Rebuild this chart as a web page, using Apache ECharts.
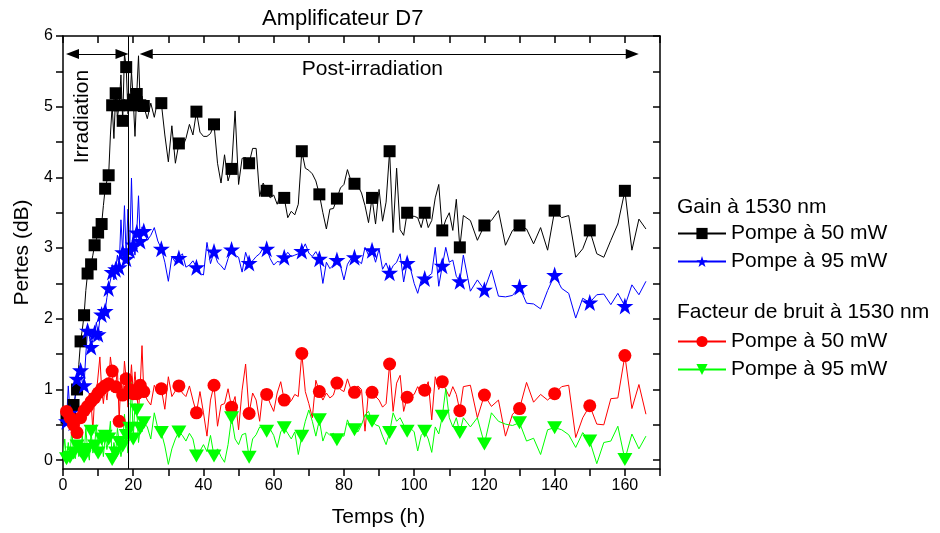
<!DOCTYPE html>
<html><head><meta charset="utf-8">
<script src="https://cdn.jsdelivr.net/npm/echarts@6/dist/echarts.min.js"></script>
<style>html,body{margin:0;padding:0;background:#fff}#c{width:940px;height:533px}</style>
</head><body><div id="c"></div><script>
// ---- data (hours, values in dB) ----
const hours = [
  0,0.5,1,1.5,2,2.5,3,3.5,4,4.5,5,5.5,6,6.5,7,7.5,8,8.5,9,9.5,10,10.5,11,11.5,12,12.5,13,13.5,14,14.5,15,15.5,16,16.5,17,17.5,18,18.5,19,19.5,20,20.5,21,21.5,22,22.5,
  23,24,25,26,27,28,29,30,31,32,33,34,35,36,37,38,39,40,41,42,43,44,45,46,47,48,49,50,51,52,53,54,55,56,57,58,59,60,61,62,63,64,65,66,67,68,
  69,70,71,72,73,74,75,76,77,78,79,80,81,82,83,84,85,86,87,88,89,90,91,92,93,94,95,96,97,98,99,100,101,102,103,104,105,106,107,108,109,110,111,112,113,
  114,116,118,120,122,124,126,128,130,132,134,136,138,140,142,144,146,148,150,152,154,156,158,160,162,164,166
];
const gain50 = [
  0.48,0.55,0.60,0.58,0.68,0.72,0.78,0.90,1.00,1.35,1.68,1.85,2.05,2.40,2.64,2.72,2.77,2.90,3.04,3.12,3.22,3.28,3.34,3.60,3.84,3.95,4.03,4.60,5.02,4.55,5.19,4.85,5.02,5.45,4.80,5.75,5.56,4.90,5.02,5.50,5.10,4.58,5.18,5.72,5.02,5.15,
  5.01,4.83,5.05,4.85,5.10,5.05,4.60,4.22,4.73,4.20,4.48,4.42,4.55,4.75,4.60,4.93,4.64,4.58,4.58,4.62,4.75,4.20,3.92,4.32,3.95,4.12,4.94,3.90,4.27,4.28,4.20,4.41,4.41,3.73,3.92,3.81,3.71,3.75,3.62,3.78,3.71,3.43,3.52,3.47,3.62,4.37,
  4.13,4.10,4.05,3.95,3.76,3.50,3.27,3.55,3.56,3.70,3.85,3.90,4.11,3.95,3.91,3.88,3.78,3.60,3.36,3.71,3.34,3.83,3.38,3.65,4.37,3.22,4.13,3.26,3.18,3.50,3.45,3.45,3.43,3.29,3.50,3.29,3.39,3.71,3.90,3.25,3.40,3.50,3.25,3.69,3.01,
  3.46,3.39,3.11,3.32,3.39,3.53,3.04,3.25,3.32,3.27,3.06,3.29,2.97,3.53,3.43,3.46,2.87,2.99,3.25,2.92,2.87,3.11,3.34,3.81,2.97,3.41,3.27
];
const gain95 = [
  0.45,0.62,0.55,1.05,0.67,0.75,0.53,0.95,1.15,1.20,1.27,1.10,1.06,1.50,1.83,1.75,1.60,1.70,1.80,1.95,1.78,2.00,2.06,2.15,2.11,2.30,2.43,2.45,2.66,2.55,2.70,2.90,2.73,3.40,2.94,3.60,2.85,3.55,2.97,3.99,3.05,2.90,3.22,3.74,3.10,3.30,
  3.24,3.11,3.18,3.29,3.10,2.99,2.80,2.53,2.88,2.80,2.86,2.92,2.73,2.76,2.82,2.73,2.64,2.62,3.08,2.78,2.95,2.80,2.75,2.69,2.85,2.98,2.90,2.87,2.66,2.94,2.79,2.82,2.88,2.92,3.00,2.99,2.85,2.76,2.81,2.80,2.87,2.94,2.88,2.90,2.92,2.96,
  3.06,2.93,2.88,2.95,2.85,2.50,2.80,2.71,2.76,2.83,2.75,2.55,2.77,2.85,2.87,2.82,2.78,3.01,2.90,2.97,2.80,2.99,2.70,2.79,2.65,2.75,2.80,2.92,2.52,2.79,2.70,2.50,2.36,2.55,2.57,2.60,2.64,3.01,2.46,2.75,3.01,2.80,2.83,2.60,2.53,
  2.90,2.39,2.55,2.41,2.69,2.32,2.31,2.33,2.45,2.22,2.21,2.14,2.40,2.62,2.43,2.36,2.01,2.29,2.23,2.34,2.35,2.20,2.36,2.18,2.48,2.34,2.53
];
const noise50 = [
  0.50,0.65,0.69,0.55,0.60,0.45,0.50,0.70,0.39,0.65,0.60,0.72,0.70,0.80,0.76,0.95,0.83,0.42,0.88,0.94,0.95,1.46,1.01,0.80,1.05,0.85,1.08,1.46,1.26,0.95,1.04,1.30,0.55,1.20,0.92,1.40,1.15,0.75,1.00,1.35,0.94,1.25,0.94,0.70,1.06,1.62,
  0.97,0.85,0.78,1.06,0.95,1.01,0.72,1.18,0.90,0.98,1.05,0.95,0.90,1.05,0.85,0.67,0.97,0.67,0.34,0.85,1.06,0.48,0.78,0.80,1.01,0.75,0.90,0.43,0.99,1.36,0.66,0.95,0.85,0.55,1.00,0.93,0.80,0.69,0.95,1.11,0.85,0.80,0.84,0.93,0.90,1.51,
  0.97,0.80,0.60,1.13,0.97,0.85,0.95,0.88,0.92,1.09,1.00,0.97,1.15,1.00,0.96,1.05,1.00,0.41,0.98,0.96,0.90,0.85,0.75,0.80,1.36,0.69,1.09,1.20,0.69,0.89,0.90,0.93,1.04,0.95,0.99,1.11,0.57,1.18,1.00,1.11,1.00,0.90,1.04,0.93,0.70,
  1.04,1.06,0.60,0.92,0.76,0.85,0.34,0.65,0.73,1.10,0.82,0.93,0.85,0.94,1.04,1.06,0.32,0.60,0.77,0.51,0.50,0.87,0.88,1.48,0.73,1.07,0.65
];
const noise95 = [
  0.05,0.30,0.02,0.25,0.04,0.45,0.10,0.02,0.20,0.05,0.13,0.35,0.05,0.45,0.15,0.00,0.41,0.10,0.20,0.50,0.10,0.35,0.30,0.05,0.34,0.15,0.30,0.55,0.01,0.25,0.10,0.45,0.25,0.05,0.20,0.65,0.35,0.10,0.45,1.10,0.30,0.80,0.71,0.25,0.45,0.40,
  0.53,0.47,0.30,0.67,0.45,0.39,0.20,-0.06,0.16,0.30,0.40,0.35,0.27,0.38,0.30,0.06,0.13,0.22,0.12,0.35,0.06,0.16,0.05,-0.03,0.22,0.60,0.30,0.22,0.36,0.38,0.04,0.30,0.36,0.47,0.45,0.41,0.44,0.35,0.18,0.40,0.46,0.38,0.30,0.40,0.08,0.34,
  0.55,0.71,0.55,0.34,0.57,0.27,0.40,0.35,0.38,0.29,0.35,0.34,0.57,0.45,0.43,0.40,0.50,0.64,0.69,0.55,0.50,0.48,0.34,0.22,0.39,0.67,0.55,0.60,0.50,0.41,0.45,0.40,0.13,0.35,0.41,0.30,0.11,0.47,0.37,0.62,1.01,0.60,0.47,0.60,0.39,
  0.60,0.47,0.60,0.23,0.67,0.55,0.51,0.49,0.53,0.27,0.31,0.08,0.43,0.46,0.43,0.36,0.18,0.39,0.27,-0.05,0.25,0.27,0.48,0.01,0.37,0.16,0.34
];
const markerHours = [1,2,3,4,5,6,7,8,9,10,11,12,13,14,15,16,17,18,19,20,21,22,
  23,28,33,38,43,48,53,58,63,68,73,78,83,88,93,98,103,108,113,120,130,140,150,160];
const xTickLabels = [0,20,40,60,80,100,120,140,160];
const yTickLabels = [0,1,2,3,4,5,6];
const yTicks = [0,0.5,1,1.5,2,2.5,3,3.5,4,4.5,5,5.5,6];
const irradiationEnd = 18.5;
const legendLabels = {g50:'Pompe à 50 mW', g95:'Pompe à 95 mW', n50:'Pompe à 50 mW', n95:'Pompe à 95 mW'};

// ---- chart ----
const FONT = '"Liberation Sans", Arial, sans-serif';
const pairs = v => hours.map((h, i) => [h, v[i]]);
const marks = v => markerHours.map(h => [h, v[hours.indexOf(h)]]);
const STAR = 'path://M50,0L61.8,35.1L98.9,35.1L69.1,56.8L80.3,91.9L50,70.2L19.7,91.9L30.9,56.8L1.1,35.1L38.2,35.1Z';
const TRI_DOWN = 'path://M0,0L100,0L50,87Z';

function lineSeries(id, vals, color, symbol, extra) {
  return Object.assign({
    name: id, type: 'line', data: pairs(vals), showSymbol: false, symbol: symbol,
    lineStyle: {color: color, width: 1}, itemStyle: {color: color},
    silent: true, animation: false, z: 2
  }, extra || {});
}
function markSeries(id, vals, color, symbol, size) {
  return {name: id + '_m', type: 'scatter', data: marks(vals), symbol: symbol, symbolSize: size,
    itemStyle: {color: color, opacity: 1}, silent: true, animation: false, z: 3};
}

const axisLineStyle = {color: '#000', width: 1.5};
const chart = echarts.init(document.getElementById('c'));
chart.setOption({
  animation: false,
  backgroundColor: '#fff',
  title: [
    {text: 'Amplificateur D7', left: 262, top: 8, padding: 0,
     textStyle: {fontSize: 22, fontWeight: 'normal', fontFamily: FONT, color: '#000'}},
    {text: 'Gain à 1530 nm', left: 677, top: 197, padding: 0,
     textStyle: {fontSize: 21, fontWeight: 'normal', fontFamily: FONT, color: '#000'}},
    {text: 'Facteur de bruit à 1530 nm', left: 677, top: 302, padding: 0,
     textStyle: {fontSize: 21, fontWeight: 'normal', fontFamily: FONT, color: '#000'}}
  ],
  legend: [
    {data: ['g50', 'g95'], orient: 'vertical', left: 677, top: 223, padding: 0, itemWidth: 48, itemHeight: 14, itemGap: 7,
     selectedMode: false, formatter: n => legendLabels[n],
     textStyle: {fontSize: 21, fontFamily: FONT, color: '#000', lineHeight: 20}},
    {data: ['n50', 'n95'], orient: 'vertical', left: 677, top: 331, padding: 0, itemWidth: 48, itemHeight: 14, itemGap: 7,
     selectedMode: false, formatter: n => legendLabels[n],
     textStyle: {fontSize: 21, fontFamily: FONT, color: '#000', lineHeight: 20}}
  ],
  grid: {left: 63, right: 280, top: 36, bottom: 58, containLabel: false},
  xAxis: [
    {type: 'value', min: 0, max: 170, interval: 10, position: 'bottom',
     name: 'Temps (h)', nameLocation: 'middle', nameGap: 38,
     nameTextStyle: {fontSize: 21, fontFamily: FONT, color: '#000', padding: [0, 0, 0, 34]},
     axisLine: {show: true, onZero: false, lineStyle: axisLineStyle},
     axisTick: {show: true, inside: false, length: 7, lineStyle: {color: '#000', width: 1.5}},
     axisLabel: {fontSize: 16, fontFamily: FONT, color: '#000', margin: 9,
       formatter: v => xTickLabels.indexOf(v) >= 0 ? String(v) : ''},
     splitLine: {show: false}},
    {type: 'value', min: 0, max: 170, interval: 10, position: 'top',
     axisLine: {show: true, onZero: false, lineStyle: axisLineStyle},
     axisTick: {show: true, inside: true, length: 7, lineStyle: {color: '#000', width: 1.5}},
     axisLabel: {show: false}, splitLine: {show: false}}
  ],
  yAxis: [
    {type: 'value', min: -0.125, max: 6, position: 'left',
     name: 'Pertes (dB)', nameLocation: 'middle', nameGap: 30,
     nameTextStyle: {fontSize: 21, fontFamily: FONT, color: '#000'},
     axisLine: {show: true, onZero: false, lineStyle: axisLineStyle},
     axisTick: {show: true, inside: false, length: 7, customValues: yTicks, lineStyle: {color: '#000', width: 1.5}},
     axisLabel: {fontSize: 16, fontFamily: FONT, color: '#000', margin: 10, customValues: yTickLabels},
     splitLine: {show: false}},
    {type: 'value', min: -0.125, max: 6, position: 'right',
     axisLine: {show: true, onZero: false, lineStyle: axisLineStyle},
     axisTick: {show: true, inside: true, length: 7, customValues: yTicks, lineStyle: {color: '#000', width: 1.5}},
     axisLabel: {show: false}, splitLine: {show: false}}
  ],
  series: [
    lineSeries('g50', gain50, '#000000', 'rect', {
      markLine: {silent: true, symbol: 'none', animation: false, label: {show: false},
        lineStyle: {color: '#000', width: 1, type: 'solid'},
        data: [{xAxis: irradiationEnd}]}
    }),
    markSeries('g50', gain50, '#000000', 'rect', 12),
    lineSeries('g95', gain95, '#0000ff', STAR, {
      markLine: {silent: true, symbol: ['triangle', 'triangle'], symbolSize: [10, 13], animation: false,
        label: {show: false}, lineStyle: {color: '#000', width: 1, type: 'solid'},
        data: [
          [{coord: [2.7, 5.745]}, {coord: [16.8, 5.745]}],
          [{coord: [23.7, 5.745]}, {coord: [162.1, 5.745]}]
        ]}
    }),
    markSeries('g95', gain95, '#0000ff', STAR, 17),
    lineSeries('n50', noise50, '#ff0000', 'circle'),
    markSeries('n50', noise50, '#ff0000', 'circle', 13),
    lineSeries('n95', noise95, '#00ff00', TRI_DOWN),
    markSeries('n95', noise95, '#00ff00', TRI_DOWN, [15, 13])
  ]
});

const annotations = [
  {text: 'Post-irradiation', at: [88.1, 5.525], rotate: 0},
  {text: 'Irradiation', at: [5.6, 4.86], rotate: Math.PI / 2}
];
chart.setOption({
  graphic: annotations.map(a => {
    const p = chart.convertToPixel({gridIndex: 0}, a.at);
    return {type: 'text', x: p[0], y: p[1], rotation: a.rotate, silent: true, z: 10,
      style: {text: a.text, fill: '#000', font: '21px ' + FONT, align: 'center', verticalAlign: 'middle'}};
  })
});
</script></body></html>
